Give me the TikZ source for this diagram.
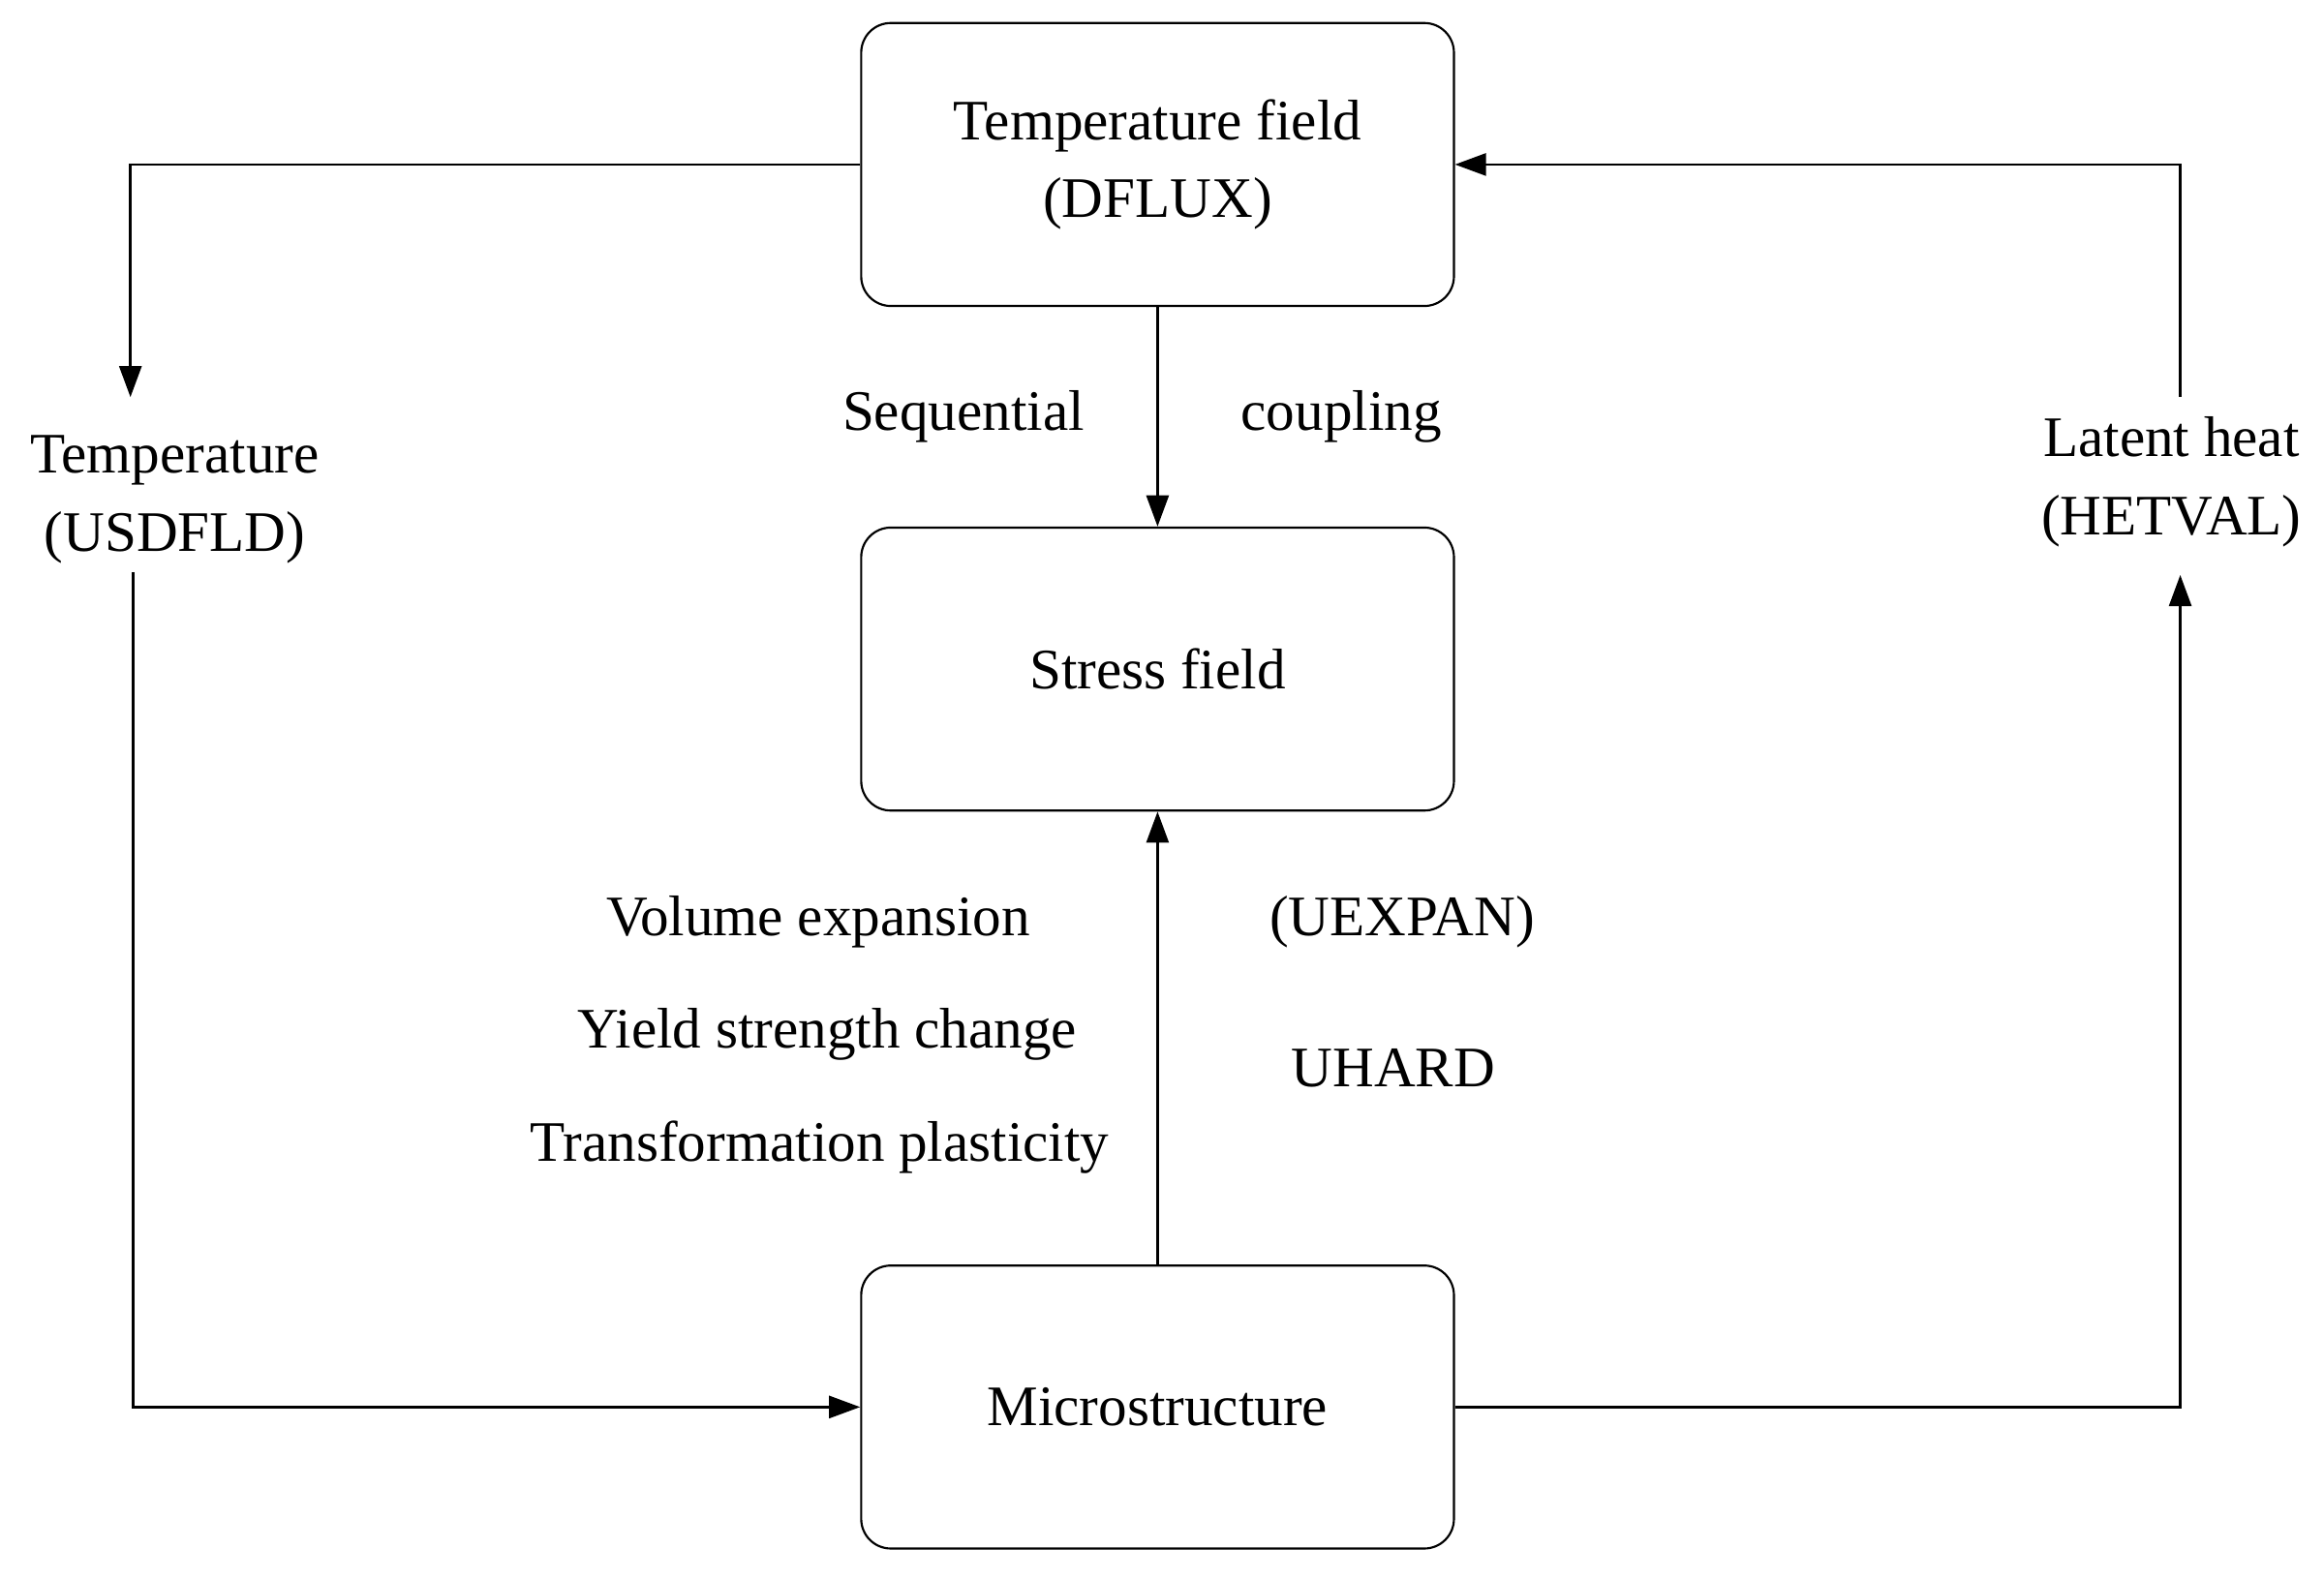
\documentclass[tikz,border=0pt]{standalone}
\usepackage{fontspec}
\setmainfont{Liberation Serif}
\usetikzlibrary{arrows.meta}
\begin{document}
\begin{tikzpicture}[x=0.02cm,y=-0.02cm,
  box/.style={draw,rounded corners=0.4cm,minimum width=8cm,minimum height=3.82cm,align=center,font=\fontsize{22}{30}\selectfont,line width=0.8pt},
  lab/.style={font=\fontsize{22}{30}\selectfont,align=center},
  arr/.style={-{Triangle[length=0.42cm,width=0.3cm]},line width=1pt}]
\useasboundingbox (0,0) rectangle (1568,1066);
\node[box] (T) at (781,111) {Temperature field\\(DFLUX)};
\node[box] (S) at (781,451.5) {Stress field};
\node[box] (M) at (781,949.5) {Microstructure};
\node[lab] (tu) at (118,337) {Temperature\\(USDFLD)};
\node[lab] (lh) at (1465,325) {Latent heat\\(HETVAL)};
\coordinate (a1) at (88,268);
\coordinate (a2) at (90,386);
\coordinate (b1) at (1471,388);
\coordinate (b2) at (1471,268);
\draw[arr] (T.west |- 0,111) -| (a1);
\draw[arr] (a2) |- (M.west);
\draw[arr] (M.east) -| (b1);
\draw[arr] (b2) |- (T.east);
\draw[arr] (T.south) -- (S.north);
\draw[arr] (M.north) -- (S.south);
\node[lab] (seq) at (650,281) {Sequential};
\node[lab] (cou) at (905,281) {coupling};
\node[lab] (v1) at (552,622) {Volume expansion};
\node[lab] (v2) at (558,698) {Yield strength change};
\node[lab] (v3) at (553,774) {Transformation plasticity};
\node[lab] (ue) at (946,622) {(UEXPAN)};
\node[lab] (uh) at (940,721) {UHARD};
\end{tikzpicture}
\end{document}
